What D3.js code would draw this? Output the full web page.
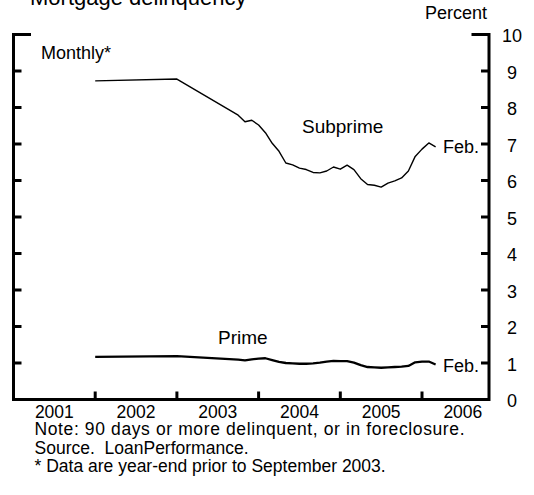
<!DOCTYPE html>
<html>
<head>
<meta charset="utf-8">
<script src="https://cdn.jsdelivr.net/npm/d3@7"></script>
<style>
  html, body { margin: 0; padding: 0; background: #fff; }
  svg text { font-family: "Liberation Sans", Arial, sans-serif; fill: #000; }
</style>
</head>
<body>
<svg id="chart" width="534" height="495"></svg>
<script>
// ---- data (month-end observations; year-end before Sep 2003) ----
const dates = ["2001-12","2002-12",
  "2003-09","2003-10","2003-11","2003-12",
  "2004-01","2004-02","2004-03","2004-04","2004-05","2004-06","2004-07","2004-08","2004-09","2004-10","2004-11","2004-12",
  "2005-01","2005-02","2005-03","2005-04","2005-05","2005-06","2005-07","2005-08","2005-09","2005-10","2005-11","2005-12",
  "2006-01","2006-02"];
const subprime = [8.73, 8.78,
  7.79, 7.61, 7.65, 7.52,
  7.31, 7.02, 6.80, 6.48, 6.43, 6.34, 6.30, 6.22, 6.21, 6.26, 6.37, 6.31,
  6.42, 6.30, 6.05, 5.89, 5.87, 5.82, 5.93, 5.99, 6.07, 6.26, 6.66, 6.86,
  7.03, 6.92];
const prime = [1.17, 1.19,
  1.09, 1.07, 1.10, 1.12,
  1.13, 1.08, 1.03, 1.00, 0.99, 0.98, 0.98, 0.99, 1.01, 1.04, 1.06, 1.05,
  1.05, 1.01, 0.94, 0.89, 0.88, 0.87, 0.88, 0.89, 0.90, 0.92, 1.02, 1.04,
  1.04, 0.96];
const yearLabels = ["2001","2002","2003","2004","2005","2006"];
const yearTicks = [2002, 2003, 2004, 2005, 2006];
const yTicks = [0,1,2,3,4,5,6,7,8,9,10];
const notes = ["Note: 90 days or more delinquent, or in foreclosure.",
               "Source.  LoanPerformance.",
               "* Data are year-end prior to September 2003."];

// ---- layout ----
const FS = 18;
const svg = d3.select("#chart");
const pL = 13.5, pR = 489, pT = 34.5, pB = 399.5;
const x = d3.scaleLinear().domain([2001, 2006.82]).range([pL, pR]);
const y = d3.scaleLinear().domain([0, 10]).range([pB, pT]);
const toYear = s => { const [yy, mm] = s.split("-").map(Number); return yy + mm / 12; };

// clipped title (only lower part visible in reference)
svg.append("text").attr("x", 30).attr("y", 4.5).attr("font-size", 22)
  .text("Mortgage delinquency");

// frame: left, right, bottom
const frame = svg.append("g").attr("stroke", "#000").attr("stroke-width", 3).attr("fill", "none");
frame.append("path").attr("d", `M${pL+16},${pT} H${pL} V${pB} H${pR} V${pT} H${pR-16}`)
  .attr("stroke-linejoin", "miter").attr("stroke-linecap", "square");

// y ticks (inner, both sides)
const inner = yTicks.filter(v => v > 0 && v < 10);
frame.selectAll("line.yl").data(inner).enter().append("line")
  .attr("x1", pL).attr("x2", pL + 8).attr("y1", d => y(d)).attr("y2", d => y(d));
frame.selectAll("line.yr").data(inner).enter().append("line")
  .attr("x1", pR).attr("x2", pR - 8).attr("y1", d => y(d)).attr("y2", d => y(d));

// x ticks
frame.selectAll("line.xt").data(yearTicks).enter().append("line")
  .attr("x1", d => x(d)).attr("x2", d => x(d)).attr("y1", pB).attr("y2", pB - 8);

// right axis labels
svg.selectAll("text.yl").data(yTicks).enter().append("text")
  .attr("x", 512).attr("y", d => y(d) + 7.5).attr("text-anchor", "middle")
  .attr("font-size", FS).text(d => d);
svg.append("text").attr("x", 487).attr("y", 18.5).attr("text-anchor", "end")
  .attr("font-size", FS).text("Percent");

// year labels
svg.selectAll("text.xl").data(yearLabels).enter().append("text")
  .attr("x", d => x(+d + 0.5)).attr("y", 417.5).attr("text-anchor", "middle")
  .attr("font-size", 17.5).text(d => d);

// lines
const line = vals => d3.line().x((d, i) => x(toYear(dates[i]))).y(d => y(d))(vals);
svg.append("path").attr("d", line(subprime)).attr("fill", "none")
  .attr("stroke", "#000").attr("stroke-width", 1.4).attr("stroke-linejoin", "round");
svg.append("path").attr("d", line(prime)).attr("fill", "none")
  .attr("stroke", "#000").attr("stroke-width", 2.3).attr("stroke-linejoin", "round");

// series labels
svg.append("text").attr("x", 41).attr("y", 59).attr("font-size", FS).text("Monthly*");
svg.append("text").attr("x", 302).attr("y", 133).attr("font-size", 19).text("Subprime");
svg.append("text").attr("x", 218).attr("y", 344).attr("font-size", 19).text("Prime");
svg.append("text").attr("x", 443).attr("y", y(7) + 9).attr("font-size", FS).text("Feb.");
svg.append("text").attr("x", 443).attr("y", y(1) + 9).attr("font-size", FS).text("Feb.");

// notes
const noteWidths = [430, null, null];
svg.selectAll("text.note").data(notes).enter().append("text")
  .attr("x", 34.5).attr("y", (d, i) => 435 + i * 18.5)
  .attr("font-size", 17.5).style("white-space", "pre")
  .each(function(d, i) { if (noteWidths[i]) d3.select(this).attr("textLength", noteWidths[i]).attr("lengthAdjust", "spacing"); })
  .text(d => d);
</script>
</body>
</html>
